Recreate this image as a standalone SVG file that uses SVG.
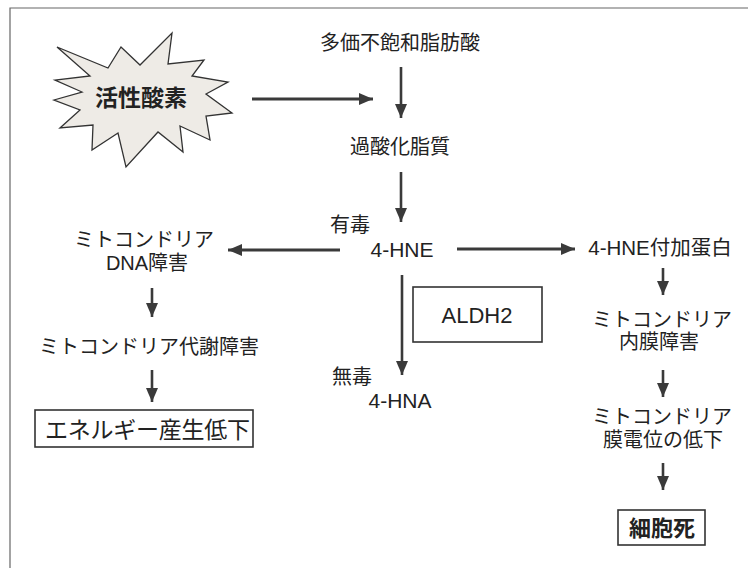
<svg xmlns="http://www.w3.org/2000/svg" width="748" height="568" viewBox="0 0 748 568">
  <defs>
    <marker id="ah" viewBox="0 0 14 12" refX="14" refY="6" markerWidth="14" markerHeight="12" markerUnits="userSpaceOnUse" orient="auto">
      <path d="M0,0 L14,6 L0,12 z" fill="#3a3a3a"/>
    </marker>
    <style>
      .t { font-family: "Liberation Sans", "Noto Sans CJK JP", sans-serif; fill: #222; text-anchor: middle; font-size: 20px; }
      .lat { font-size: 21px; }
      .big { font-size: 23px; text-anchor: start; }
      .bold { font-weight: bold; }
      .box { fill: none; stroke: #333; stroke-width: 1.6; }
      .c { stroke: #3a3a3a; fill: none; marker-end: url(#ah); }
      .h { stroke-width: 3; }
      .v { stroke-width: 2.6; }
    </style>
  </defs>
  <rect width="748" height="568" fill="#fff"/>
  <path d="M10,568 L10,8 L748,8" fill="none" stroke="#666" stroke-width="1.2"/>

  <g id="node-ros">
    <polygon points="57,47 108,68 121,47 140,65 172,33 168,64 204,60 192,76 228,82 206,94 232,113 206,116 210,140 180,126 183,152 158,132 126,167 118,133 92,150 93,125 60,128 80,110 54,100 82,92 55,80 90,76" fill="#eeebe6" stroke="#333" stroke-width="1.3" stroke-linejoin="miter"/>
    <text class="t bold" x="141" y="106" style="font-size:23px">活性酸素</text>
  </g>

  <g id="node-pufa"><text class="t" x="400" y="50">多価不飽和脂肪酸</text></g>
  <g id="node-lipidperox"><text class="t" x="400" y="154">過酸化脂質</text></g>
  <g id="node-toxic-label"><text class="t" x="350" y="232">有毒</text></g>
  <g id="node-4hne"><text class="t lat" x="402" y="257">4-HNE</text></g>
  <g id="node-aldh2">
    <rect class="box" x="413" y="287" width="129" height="55"/>
    <text class="t" x="477" y="323" style="font-size:22px">ALDH2</text>
  </g>
  <g id="node-nontoxic-label"><text class="t" x="352" y="384">無毒</text></g>
  <g id="node-4hna"><text class="t lat" x="400" y="408">4-HNA</text></g>

  <g id="node-mtdna">
    <text class="t" x="144" y="247">ミトコンドリア</text>
    <text class="t" x="147" y="270">DNA障害</text>
  </g>
  <g id="node-mtmetab"><text class="t" x="149" y="354">ミトコンドリア代謝障害</text></g>
  <g id="node-energy">
    <rect class="box" x="35" y="410" width="218" height="37"/>
    <text class="t big" x="45" y="438" textLength="205" lengthAdjust="spacing">エネルギー産生低下</text>
  </g>

  <g id="node-adduct"><text class="t" x="660" y="255" style="font-size:20.5px">4-HNE付加蛋白</text></g>
  <g id="node-innermem">
    <text class="t" x="662" y="327">ミトコンドリア</text>
    <text class="t" x="659" y="349">内膜障害</text>
  </g>
  <g id="node-potential">
    <text class="t" x="662" y="424">ミトコンドリア</text>
    <text class="t" x="663" y="447">膜電位の低下</text>
  </g>
  <g id="node-death">
    <rect class="box" x="618" y="510" width="87" height="35"/>
    <text class="t bold" x="662" y="536" style="font-size:22px">細胞死</text>
  </g>

  <g id="connectors">
    <line class="c h" x1="252" y1="99" x2="373" y2="99"/>
    <line class="c v" x1="401" y1="67" x2="401" y2="118"/>
    <line class="c v" x1="401" y1="172" x2="401" y2="222"/>
    <line class="c h" x1="340" y1="250" x2="228" y2="250"/>
    <line class="c h" x1="457" y1="249" x2="575" y2="249"/>
    <line class="c v" x1="402" y1="275" x2="402" y2="375"/>
    <line class="c v" x1="152" y1="288" x2="152" y2="317"/>
    <line class="c v" x1="152" y1="370" x2="152" y2="402"/>
    <line class="c v" x1="663" y1="268" x2="663" y2="295"/>
    <line class="c v" x1="663" y1="370" x2="663" y2="397"/>
    <line class="c v" x1="663" y1="463" x2="663" y2="490"/>
  </g>
</svg>
